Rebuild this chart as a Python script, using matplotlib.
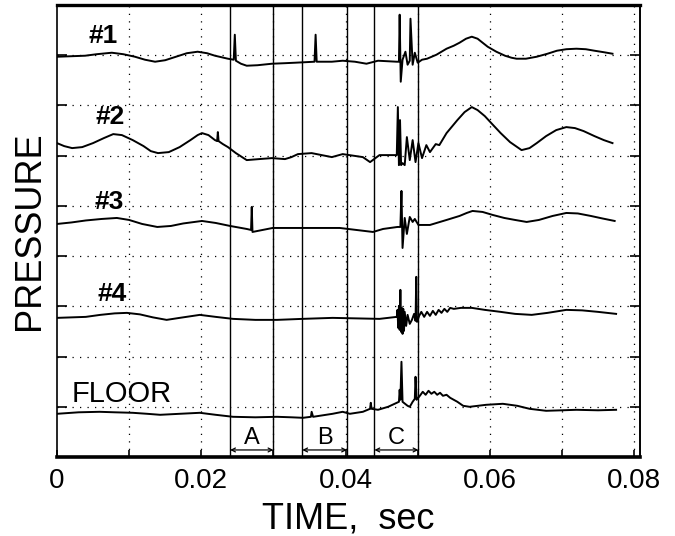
import numpy as np
import matplotlib
matplotlib.use("Agg")
import matplotlib.pyplot as plt

plt.rcParams['font.family'] = ['Liberation Sans', 'DejaVu Sans']

# pressure traces, time in ms, pressure in arbitrary units (relative to each trace's rest level)
t1 = [0.1, 2.0, 3.9, 5.5, 7.6, 9.2, 10.8, 12.2, 13.6, 15.0, 16.5, 18.0, 19.5, 20.8, 21.9, 22.8, 23.7, 24.5, 24.65,
      24.8, 25.5, 26.3, 27.8, 29.8, 31.5, 33.0, 35.7, 35.85, 36.0, 38.1, 39.6, 41.3, 42.9, 44.5, 47.1, 47.4, 47.5,
      47.65, 47.9, 48.3, 48.6, 48.9, 49.0, 49.3, 49.6, 50.0, 50.6, 51.3, 52.6, 53.3, 54.0, 55.0, 55.8, 56.7, 57.5,
      58.3, 59.0, 59.7, 60.9, 62.1, 63.0, 63.7, 65.0, 66.5, 68.0, 69.3, 70.6, 72.0, 73.3, 74.5, 75.8, 77.0]
p1 = [1, 1.5, 2, 3.5, 5, 3.5, 1, -2, -4, -2.5, 1, 4.5, 6, 4.5, 2, 0.5, -1, -2, 23,
      -3, -6, -8, -7.5, -6, -5.5, -5, -4, 23, -4, -4, -3, -4, -6, -3, -4, -4, 43,
      -24, -2, 6, -7, -3, 39, -7, 5, -5, -2, -1, 3, 6, 9, 12, 15, 19, 21,
      19, 15, 11, 6, 2, 0, -1, -1, 1, 4, 7, 8.5, 9, 8.5, 7, 5.5, 4]

t2 = [0.0, 1.0, 2.1, 3.5, 5.0, 6.5, 7.8, 9.0, 10.5, 12.0, 13.0, 14.0, 15.5, 17.0, 18.5, 19.5, 20.1, 21.0, 21.9,
      22.2, 22.3, 22.4, 23.0, 23.7, 24.8, 26.3, 28.0, 29.8, 31.6, 32.5, 33.4, 35.3, 36.7, 38.1, 39.6, 42.4, 43.4,
      44.7, 47.1, 47.25, 47.4, 47.55, 47.7, 47.9, 48.2, 48.5, 48.9, 49.3, 49.7, 50.1, 50.6, 51.2, 51.7, 52.5, 53.0,
      54.0, 55.5, 56.5, 57.5, 58.3, 59.3, 60.2, 61.5, 62.8, 64.4, 65.5, 66.5, 67.8, 69.2, 70.6, 71.8, 73.0, 74.5,
      75.8, 77.0]
p2 = [0, -3, -5, -4, 0, 5, 9, 8, 3, -3, -8, -10, -9, -4, 3, 8, 10, 8, 3,
      2, 11, 2, -1, -4, -10, -17, -16, -15, -16, -14, -11, -10, -12, -14, -11, -14, -19,
      -12, -12, 36, -22, 23, -22, -20, -22, 6, -17, 3, -19, 0, -15, -2, -9, -1, -2,
      10, 23, 31, 36, 33, 27, 20, 10, 1, -7, -5, 0, 7, 13, 16, 15, 12, 7,
      3, 0]

t3 = [0.0, 2.0, 4.0, 6.2, 8.3, 10.0, 11.8, 13.9, 15.8, 17.5, 20.1, 22.0, 24.0, 26.3, 26.9, 27.0, 27.1, 29.9, 33.7,
      39.2, 43.8, 45.2, 47.2, 47.6, 47.75, 47.9, 48.2, 48.5, 48.9, 49.3, 49.6, 50.1, 51.7, 54.0, 55.8, 56.8, 57.6,
      59.0, 60.4, 62.0, 63.5, 65.1, 66.8, 68.7, 70.6, 72.2, 74.0, 75.6, 77.3]
p3 = [0, 1.5, 3.5, 5, 6, 4, 0, -3, -2, 0.5, 3, 1, -2, -5, -6, 17, -8, -4, -4,
      -4, -8, -5, -3, -3, 33, -24, 6, -10, 7, 2, 5, -1, -1, 4, 8, 11, 13,
      12, 9, 6, 4, 2, 4, 8, 11, 10.5, 8, 5.5, 3]

t4 = [0.0, 2.0, 4.0, 6.0, 8.0, 9.7, 11.5, 13.3, 15.2, 17.0, 19.8, 22.0, 24.4, 27.5, 30.5, 34.0, 38.2, 44.7, 47.1,
      47.2, 47.3, 47.4, 47.5, 47.6, 47.7, 47.8, 47.9, 48.0, 48.1, 48.2, 48.4, 48.6, 48.9, 49.2, 49.5, 49.7, 49.8,
      49.9, 50.2, 50.5, 50.9, 51.3, 51.7, 52.1, 52.5, 52.9, 53.3, 53.7, 54.1, 54.5, 55.0, 56.0, 57.5, 59.3, 61.5,
      63.5, 65.8, 68.0, 70.6, 72.8, 75.0, 77.5]
p4 = [0, 0.5, 1, 3, 4.5, 5, 3.5, 0.5, -2, 0, 3, 1, -1, -2, -2, -1, 0, -1, 1,
      8, -10, 12, -12, 28, -14, 10, -16, 9, -13, 6, -8, 3, -6, -2, 4, -3, 41,
      -4, 2, 6, 1, 6, 2, 7, 3, 8, 5, 9, 6, 10, 9, 10, 10, 8, 6,
      4, 3, 5, 8, 7.5, 6, 4]

t_fl = [0.0, 3.0, 5.9, 8.0, 10.5, 12.5, 14.3, 17.0, 19.8, 22.0, 24.4, 27.5, 30.5, 32.5, 34.1, 35.2, 35.3, 35.5,
        38.2, 39.6, 40.6, 42.4, 43.4, 43.5, 43.6, 44.5, 45.9, 47.1, 47.4, 47.5, 47.6, 47.75, 47.9, 48.6, 48.9, 49.3,
        49.6, 49.7, 49.85, 50.3, 50.7, 51.1, 51.5, 51.9, 52.3, 52.7, 53.1, 53.5, 54.0, 54.5, 55.5, 56.3, 57.2,
        59.5, 61.8, 63.8, 65.5, 67.8, 70.0, 72.0, 75.0, 77.5]
p_fl = [0, 1.5, 2, 1.5, 1, 0, -1, 0, 1, -1, -3, -3.5, -3, -3.5, -4, -3, 2, -3,
        0, 2, 0, 2, 5, 11, 5, 4, 7, 11, 12, 24, 14, 52, 12, 8, 7, 12,
        15, 37, 14, 18, 22, 19, 23, 20, 22, 19, 21, 18, 19, 16, 12, 8, 7,
        9, 10, 8, 5, 3, 3.5, 4, 3.5, 4]

labels = ['#1', '#2', '#3', '#4', 'FLOOR']
rest_levels = [7.95, 6.25, 4.64, 2.77, 0.86]
label_pos = [(6.4, 8.38), (7.3, 6.76), (7.2, 5.08), (7.6, 3.25), (9.0, 1.25)]

# time windows A, B, C (ms)
windows = ['A', 'B', 'C']
win_start = [24.0, 34.0, 44.0]
win_end = [30.0, 40.2, 50.1]

scale = 50.2  # arbitrary units per grid division

fig = plt.figure(figsize=(6.75, 5.36), dpi=100)
ax = fig.add_axes([0.0844, 0.1474, 0.8636, 0.8433])

traces = [(t1, p1), (t2, p2), (t3, p3), (t4, p4), (t_fl, p_fl)]
for (t, p), lvl in zip(traces, rest_levels):
    ax.plot(np.array(t) / 1000., lvl + np.array(p) / scale, color='black', lw=1.4,
            solid_joinstyle='round')

for (tx, ty), lab in zip(label_pos, labels):
    if lab.startswith('#'):
        ax.text(tx / 1000., ty, lab, ha='center', va='center', fontsize=19, fontweight='bold')
    else:
        ax.text(tx / 1000., ty, lab, ha='center', va='center', fontsize=21)

for name, a, b in zip(windows, win_start, win_end):
    ax.axvline(a / 1000., color='black', lw=1.0)
    ax.axvline(b / 1000., color='black', lw=1.0)
    ax.annotate('', xy=(a / 1000., 0.14), xytext=(b / 1000., 0.14),
                arrowprops=dict(arrowstyle='<->', lw=0.9, color='black', mutation_scale=7,
                                shrinkA=0, shrinkB=0))
    ax.text((a + b) / 2000., 0.38, name, ha='center', va='center', fontsize=17)

ax.set_xlim(0, 0.0808)
ax.set_ylim(0, 9)
ax.set_xticks([0, 0.02, 0.04, 0.06, 0.08])
ax.set_xticklabels(['0', '0.02', '0.04', '0.06', '0.08'])
ax.set_xticks(np.arange(0.01, 0.08, 0.02), minor=True)
ax.set_yticks(np.arange(1, 9))
ax.set_yticklabels([])
ax.tick_params(axis='x', which='both', direction='in', length=5, width=1.2, labelsize=20, pad=8)
ax.tick_params(axis='y', direction='in', length=7, width=1.2, left=True, right=True)

for x in np.arange(0.01, 0.08, 0.01):
    ax.axvline(x, color='black', lw=0.9, linestyle=(0, (1, 5)), zorder=0)
for y in np.arange(1, 9):
    ax.axhline(y, color='black', lw=0.9, linestyle=(0, (1, 5)), zorder=0)

ax.spines['top'].set_linewidth(2.4)
ax.spines['bottom'].set_linewidth(2.6)
ax.spines['left'].set_linewidth(1.2)
ax.spines['right'].set_linewidth(1.4)

ax.set_xlabel('TIME,  sec', fontsize=26, labelpad=5)
ax.set_ylabel('PRESSURE', fontsize=26, labelpad=4)

fig.savefig('out.png', dpi=100)
